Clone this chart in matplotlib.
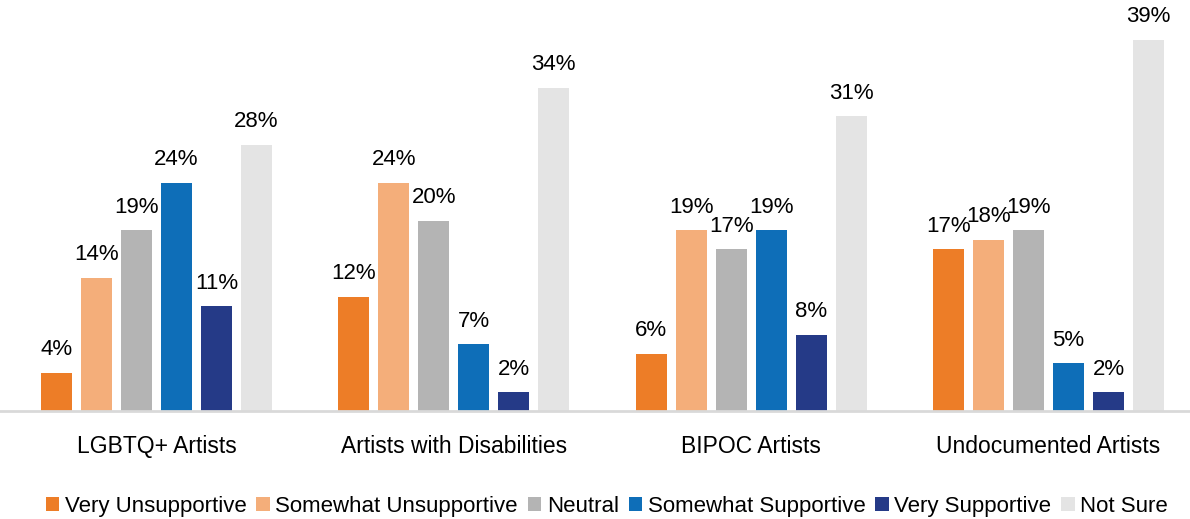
import matplotlib.pyplot as plt
import numpy as np

groups = ["LGBTQ+ Artists", "Artists with Disabilities", "BIPOC Artists", "Undocumented Artists"]
responses = ["Very Unsupportive", "Somewhat Unsupportive", "Neutral",
             "Somewhat Supportive", "Very Supportive", "Not Sure"]
very_unsupportive = [4, 12, 6, 17]
somewhat_unsupportive = [14, 24, 19, 18]
neutral = [19, 20, 17, 19]
somewhat_supportive = [24, 7, 19, 5]
very_supportive = [11, 2, 8, 2]
not_sure = [28, 34, 31, 39]
colors = ["#ED7D27", "#F4AE7A", "#B4B4B4", "#0E6EB8", "#253A87", "#E4E4E4"]

series = [very_unsupportive, somewhat_unsupportive, neutral,
          somewhat_supportive, very_supportive, not_sure]

plt.rcParams['font.family'] = ['Liberation Sans', 'DejaVu Sans']

fig = plt.figure(figsize=(11.9, 5.19), dpi=100)
ax = fig.add_axes([0, 0.208, 1, 0.792])

x = np.arange(len(groups))
pitch = 0.1345
width = 0.104
for i, (vals, name, c) in enumerate(zip(series, responses, colors)):
    pos = x + (i - 2.5) * pitch
    bars = ax.bar(pos, vals, width, color=c, label=name, zorder=2)
    ax.bar_label(bars, labels=[f"{v}%" for v in vals], padding=9, fontsize=16)

ax.set_xlim(-0.526, 3.476)
ax.set_ylim(0, 43.2)
ax.set_xticks(x)
ax.set_xticklabels(groups, fontsize=16.5)
ax.tick_params(axis='x', length=0, pad=17)
ax.set_yticks([])
for s in ["top", "left", "right"]:
    ax.spines[s].set_visible(False)
ax.spines["bottom"].set_color("#D9D9D9")
ax.spines["bottom"].set_linewidth(2)

fig.legend(loc="lower center", bbox_to_anchor=(0.51, -0.035), ncol=6, frameon=False,
           fontsize=16, handlelength=0.6, handleheight=0.6, handletextpad=0.25,
           columnspacing=0.45)

fig.savefig("out.png", dpi=100)
